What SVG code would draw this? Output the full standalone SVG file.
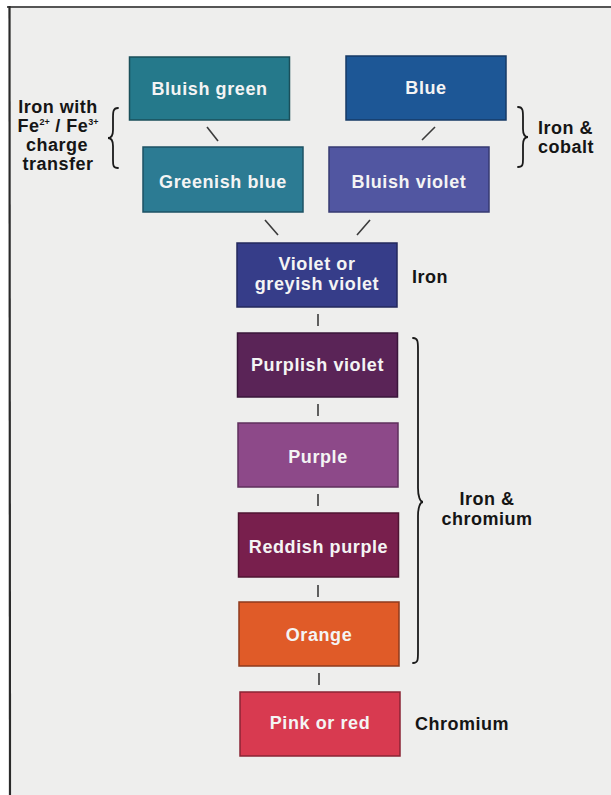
<svg xmlns="http://www.w3.org/2000/svg" width="611" height="795" viewBox="0 0 611 795">
  <style>
    .box { stroke-width: 1.5; }
    .bt { font-family: "Liberation Sans", Arial, sans-serif; font-weight: bold; font-size: 18px; letter-spacing: 0.6px; fill: #f4f4f4; text-anchor: middle; }
    .lbl { font-family: "Liberation Sans", Arial, sans-serif; font-weight: bold; font-size: 18px; letter-spacing: 0.5px; fill: #151515; }
    .sup { font-size: 9px; letter-spacing: 0; }
    .link { stroke: #3a3a3a; stroke-width: 1.6; fill: none; }
    .brace { stroke: #1a1a1a; stroke-width: 1.8; fill: none; stroke-linecap: round; }
  </style>

  <!-- page and frame -->
  <rect x="0" y="0" width="611" height="795" fill="#ffffff"/>
  <rect x="9" y="7" width="602" height="788" fill="#eeeeed"/>
  <line x1="7" y1="7" x2="611" y2="7" stroke="#555" stroke-width="2"/>
  <line x1="9.5" y1="6" x2="10" y2="795" stroke="#2a2a2a" stroke-width="2.2"/>

  <!-- connectors -->
  <g id="connectors">
    <line class="link" x1="207" y1="127" x2="218" y2="141"/>
    <line class="link" x1="435" y1="127" x2="422" y2="140"/>
    <line class="link" x1="265" y1="220" x2="278" y2="235"/>
    <line class="link" x1="370" y1="220" x2="357" y2="235"/>
    <line class="link" x1="318" y1="314" x2="318" y2="326"/>
    <line class="link" x1="318" y1="404" x2="318" y2="416"/>
    <line class="link" x1="318" y1="494" x2="318" y2="506"/>
    <line class="link" x1="318" y1="585" x2="318" y2="597"/>
    <line class="link" x1="319" y1="673" x2="319" y2="685"/>
  </g>

  <!-- colour nodes -->
  <g id="bluish-green">
    <rect class="box" x="129.5" y="57" width="160" height="63" fill="#25798b" stroke="#1a4f5a"/>
    <text class="bt" x="209.5" y="95">Bluish green</text>
  </g>
  <g id="blue">
    <rect class="box" x="346" y="56" width="160" height="64" fill="#1d5796" stroke="#163a66"/>
    <text class="bt" x="426" y="94">Blue</text>
  </g>
  <g id="greenish-blue">
    <rect class="box" x="143" y="147" width="160" height="65" fill="#2c7b93" stroke="#1d5264"/>
    <text class="bt" x="223" y="188">Greenish blue</text>
  </g>
  <g id="bluish-violet">
    <rect class="box" x="329" y="147" width="160" height="65" fill="#5156a1" stroke="#363a72"/>
    <text class="bt" x="409" y="188">Bluish violet</text>
  </g>
  <g id="violet">
    <rect class="box" x="237" y="243" width="160" height="64" fill="#363d89" stroke="#23285c"/>
    <text class="bt" x="317" y="270">Violet or</text>
    <text class="bt" x="317" y="290">greyish violet</text>
  </g>
  <g id="purplish-violet">
    <rect class="box" x="237.5" y="333" width="160" height="64" fill="#5a2457" stroke="#3a163a"/>
    <text class="bt" x="317.5" y="371">Purplish violet</text>
  </g>
  <g id="purple">
    <rect class="box" x="238" y="423" width="160" height="64" fill="#8d4989" stroke="#5f2f5c"/>
    <text class="bt" x="318" y="463">Purple</text>
  </g>
  <g id="reddish-purple">
    <rect class="box" x="238.5" y="513" width="160" height="64" fill="#781f4d" stroke="#4f1432"/>
    <text class="bt" x="318.5" y="553">Reddish purple</text>
  </g>
  <g id="orange">
    <rect class="box" x="239" y="602" width="160" height="64" fill="#e05b28" stroke="#8e3a1c"/>
    <text class="bt" x="319" y="641">Orange</text>
  </g>
  <g id="pink-red">
    <rect class="box" x="240" y="692" width="160" height="64" fill="#d83a50" stroke="#8a2434"/>
    <text class="bt" x="320" y="729">Pink or red</text>
  </g>

  <!-- group labels and braces -->
  <g id="label-iron-charge-transfer">
    <text class="lbl" x="58" y="113" text-anchor="middle">Iron with</text>
    <text class="lbl" x="58" y="132" text-anchor="middle">Fe<tspan class="sup" dy="-7">2+</tspan><tspan dy="7"> / Fe</tspan><tspan class="sup" dy="-7">3+</tspan></text>
    <text class="lbl" x="57" y="151" text-anchor="middle">charge</text>
    <text class="lbl" x="58" y="170" text-anchor="middle">transfer</text>
    <path class="brace" d="M118,108 C113,108 113,112 113,118 L113,130 C113,135 111,138 108,138 C111,138 113,141 113,146 L113,160 C113,165 113,168 118,168"/>
  </g>
  <g id="label-iron-cobalt">
    <path class="brace" d="M518,107 C523,107 523,111 523,117 L523,129 C523,134 525,137 528,137 C525,137 523,140 523,145 L523,159 C523,164 523,167 518,167"/>
    <text class="lbl" x="538" y="134">Iron &amp;</text>
    <text class="lbl" x="538" y="153">cobalt</text>
  </g>
  <g id="label-iron">
    <text class="lbl" x="412" y="283">Iron</text>
  </g>
  <g id="label-iron-chromium">
    <path class="brace" d="M413,338 C418,338 418,342 418,350 L418,488 C418,496 420,502 423,502 C420,502 418,508 418,516 L418,652 C418,660 418,663 413,663"/>
    <text class="lbl" x="487" y="505" text-anchor="middle">Iron &amp;</text>
    <text class="lbl" x="487" y="525" text-anchor="middle">chromium</text>
  </g>
  <g id="label-chromium">
    <text class="lbl" x="415" y="730">Chromium</text>
  </g>
</svg>
